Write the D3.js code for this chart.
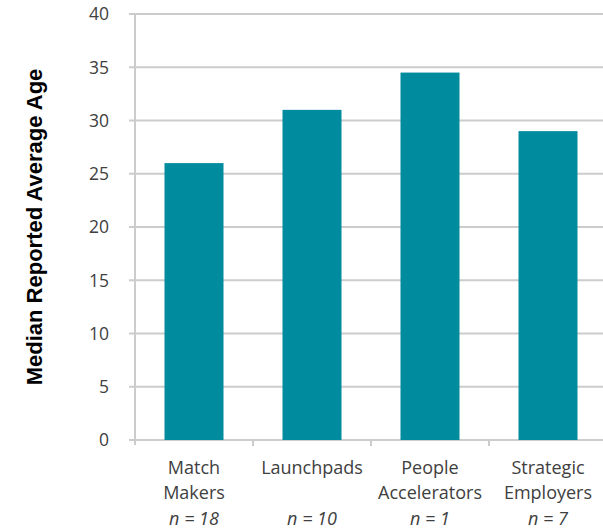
<!DOCTYPE html>
<html lang="en">
<head>
<meta charset="utf-8">
<title>Median Reported Average Age</title>
<script src="https://cdn.jsdelivr.net/npm/d3@7"></script>
<style>
  body { margin: 0; background: #fff; }
  text { font-family: "Open Sans", "Noto Sans", sans-serif; }
</style>
</head>
<body>
<svg id="chart"></svg>
<script>
// data
var categories = ["Match Makers", "Launchpads", "People Accelerators", "Strategic Employers"];
var labelLines = [["Match", "Makers"], ["Launchpads"], ["People", "Accelerators"], ["Strategic", "Employers"]];
var sampleSizes = ["n = 18", "n = 10", "n = 1", "n = 7"];
var values = [26, 31, 34.5, 29];
var yTicks = [0, 5, 10, 15, 20, 25, 30, 35, 40];

var width = 603, height = 529;
var margin = {top: 14, right: -4, bottom: 89, left: 135};

var svg = d3.select("#chart")
    .attr("width", width)
    .attr("height", height);

var x = d3.scaleBand()
    .domain(categories)
    .range([margin.left, width - margin.right])
    .paddingInner(0.5)
    .paddingOuter(0.25);

var y = d3.scaleLinear()
    .domain([0, 40])
    .range([height - margin.bottom, margin.top]);

// gridlines
svg.append("g")
    .selectAll("line")
    .data(yTicks)
    .enter()
    .append("line")
    .attr("x1", margin.left - 6)
    .attr("x2", width)
    .attr("y1", d => y(d))
    .attr("y2", d => y(d))
    .attr("stroke", "#cccccc")
    .attr("stroke-width", 2);

// y axis line
svg.append("line")
    .attr("x1", margin.left)
    .attr("x2", margin.left)
    .attr("y1", y(40))
    .attr("y2", y(0) + 5)
    .attr("stroke", "#cccccc")
    .attr("stroke-width", 2);

// y tick labels
svg.append("g")
    .selectAll("text")
    .data(yTicks)
    .enter()
    .append("text")
    .attr("x", 109)
    .attr("y", d => y(d))
    .attr("dy", "0.36em")
    .attr("text-anchor", "end")
    .attr("fill", "#404040")
    .style("font-size", "17.5px")
    .text(d => d);

// bars
svg.append("g")
    .selectAll("rect")
    .data(values)
    .enter()
    .append("rect")
    .attr("x", (d, i) => x(categories[i]))
    .attr("width", x.bandwidth())
    .attr("y", d => y(d))
    .attr("height", d => y(0) - y(d))
    .attr("fill", "#008b9e");

// x axis ticks between categories
var step = x.step();
svg.append("g")
    .selectAll("line")
    .data(categories.slice(1))
    .enter()
    .append("line")
    .attr("x1", d => x(d) - step / 4)
    .attr("x2", d => x(d) - step / 4)
    .attr("y1", y(0))
    .attr("y2", y(0) + 6)
    .attr("stroke", "#cccccc")
    .attr("stroke-width", 2);

// category labels
var catG = svg.append("g")
    .selectAll("g")
    .data(categories)
    .enter()
    .append("g")
    .attr("transform", d => "translate(" + (x(d) + x.bandwidth() / 2) + ",0)");

catG.each(function(d, i) {
    var g = d3.select(this);
    labelLines[i].forEach(function(line, j) {
        g.append("text")
            .attr("y", 474 + j * 25)
            .attr("text-anchor", "middle")
            .attr("fill", "#404040")
            .style("font-size", "18px")
            .text(line);
    });
    g.append("text")
        .attr("y", 525)
        .attr("text-anchor", "middle")
        .attr("fill", "#404040")
        .style("font-size", "18px")
        .style("font-style", "italic")
        .text(sampleSizes[i]);
});

// y axis title
svg.append("text")
    .attr("transform", "translate(42," + y(20) + ") rotate(-90)")
    .attr("text-anchor", "middle")
    .style("font-family", "'Liberation Sans', Arial, sans-serif")
    .style("font-size", "22px")
    .style("font-weight", "bold")
    .attr("fill", "#000")
    .text("Median Reported Average Age");
</script>
</body>
</html>
